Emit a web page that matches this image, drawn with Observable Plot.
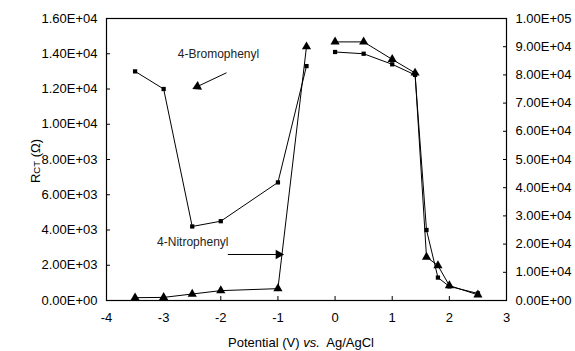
<!DOCTYPE html>
<html><head><meta charset="utf-8">
<script src="https://cdn.jsdelivr.net/npm/d3@7"></script>
<script src="https://cdn.jsdelivr.net/npm/@observablehq/plot@0.6"></script>
<style>body{margin:0;background:#fff}</style>
</head><body><div id="chart"></div>
<script>
// Potential (V) vs Ag/AgCl
const potentials = [-3.5, -3, -2.5, -2, -1, -0.5, 0, 0.5, 1, 1.4, 1.6, 1.8, 2, 2.5];
// branch of the sweep each point belongs to (lines are not joined between -0.5 and 0)
const branches = ["neg", "neg", "neg", "neg", "neg", "neg", "pos", "pos", "pos", "pos", "pos", "pos", "pos", "pos"];
// squares series, left axis (Ohm)
const squareValues = [13000, 12000, 4200, 4500, 6700, 13300, 14100, 14000, 13400, 12800, 4000, 1300, 800, 400];
// triangles series, right axis (Ohm)
const triangleValues = [1000, 1100, 2300, 3500, 4200, 90000, 91700, 91700, 85500, 80700, 15400, 12400, 5300, 2000];
const xTicks = [-4, -3, -2, -1, 0, 1, 2, 3];
const leftTicks = [0, 2000, 4000, 6000, 8000, 10000, 12000, 14000, 16000];
const rightTicks = [0, 10000, 20000, 30000, 40000, 50000, 60000, 70000, 80000, 90000, 100000];
const ratio = 16000 / 100000; // right axis to left axis units

const annotations = [
  {label: "4-Bromophenyl", x: -2.04, y: 13960, x1: -1.9, y1: 12920, x2: -2.41, y2: 12140, rot: 244},
  {label: "4-Nitrophenyl", x: -2.49, y: 3290, x1: -1.877, y1: 2610, x2: -0.99, y2: 2610, rot: 90}
];

function fmt(v) {
  const [m, e] = v.toExponential(2).split("e");
  const n = +e;
  return m + "E" + (n < 0 ? "-" : "+") + String(Math.abs(n)).padStart(2, "0");
}

const squares = potentials.map((x, i) => ({x, y: squareValues[i], b: branches[i]}));
const triangles = potentials.map((x, i) => ({x, y: triangleValues[i] * ratio, b: branches[i]}));

const chart = Plot.plot({
  width: 575, height: 351,
  marginLeft: 106, marginRight: 69, marginTop: 18, marginBottom: 51,
  style: {fontFamily: "'Liberation Sans', Arial, sans-serif", fontSize: "13px", color: "#000", background: "#fff"},
  x: {domain: [-4, 3]},
  y: {domain: [0, 16000]},
  marks: [
    Plot.frame({stroke: "#000", strokeWidth: 1.2}),
    Plot.axisX(xTicks, {tickSize: -4, tickPadding: 16, tickFormat: d => String(d), label: null, fontSize: 13}),
    Plot.axisY(leftTicks, {anchor: "left", tickSize: -4, tickPadding: 13, tickFormat: fmt, label: null, fontSize: 13}),
    Plot.axisY(rightTicks.map(v => v * ratio), {anchor: "right", tickSize: -4, tickPadding: 13, tickFormat: d => fmt(Math.round(d / ratio)), label: null, fontSize: 13}),
    Plot.line(squares, {x: "x", y: "y", z: "b", stroke: "#000", strokeWidth: 1}),
    Plot.line(triangles, {x: "x", y: "y", z: "b", stroke: "#000", strokeWidth: 1}),
    Plot.dot(squares, {x: "x", y: "y", symbol: "square", r: 2.4, fill: "#000"}),
    Plot.dot(triangles, {x: "x", y: "y", symbol: "triangle", r: 3.4, fill: "#000"}),
    Plot.link(annotations, {x1: "x1", y1: "y1", x2: "x2", y2: "y2", stroke: "#000", strokeWidth: 1}),
    Plot.dot(annotations, {x: "x2", y: "y2", symbol: "triangle", r: 3.6, fill: "#000", rotate: "rot"}),
    Plot.text(annotations, {x: "x", y: "y", text: "label", fontSize: 12, fill: "#222"})
  ]
});

const svg = d3.select(chart);
const yl = svg.append("text")
  .attr("transform", "translate(40,161) rotate(-90)")
  .attr("text-anchor", "middle")
  .attr("font-size", 13).attr("fill", "#000");
yl.append("tspan").text("R");
yl.append("tspan").attr("font-size", 9.5).text("CT");
yl.append("tspan").text(" (Ω)");

const xl = svg.append("text")
  .attr("x", 301).attr("y", 347)
  .attr("text-anchor", "middle")
  .attr("font-size", 13).attr("fill", "#000")
  .attr("style", "white-space:pre");
xl.append("tspan").text("Potential (V) ");
xl.append("tspan").attr("font-style", "italic").text("vs.");
xl.append("tspan").text("  Ag/AgCl");

document.getElementById("chart").append(chart);
</script>
</body></html>
